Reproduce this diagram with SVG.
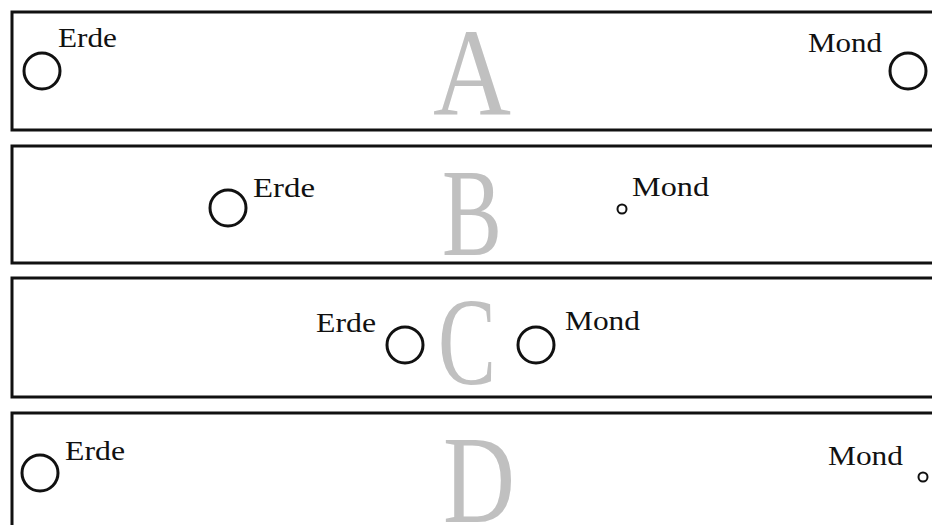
<svg xmlns="http://www.w3.org/2000/svg" width="932" height="525" viewBox="0 0 932 525">
  <style>
    .panel { fill: #ffffff; stroke: #111111; stroke-width: 3; }
    .body { fill: none; stroke: #111111; stroke-width: 3; }
    .small { fill: none; stroke: #111111; stroke-width: 2; }
    .label { font-family: "Liberation Serif", "DejaVu Serif", serif; font-size: 28px; fill: #111111; }
    .big { font-family: "Liberation Serif", "DejaVu Serif", serif; font-size: 124px; fill: #c0c0c0; text-anchor: middle; }
  </style>
  <rect width="932" height="525" fill="#ffffff"/>

  <!-- Panel A -->
  <g id="panel-a">
    <rect class="panel" x="12" y="12" width="940" height="118"/>
    <text class="big" x="472" y="115" textLength="78" lengthAdjust="spacingAndGlyphs">A</text>
    <g id="a-erde">
      <circle class="body" cx="42" cy="71" r="18"/>
      <text class="label" x="58" y="47" textLength="59" lengthAdjust="spacingAndGlyphs">Erde</text>
    </g>
    <g id="a-mond">
      <circle class="body" cx="908" cy="71" r="18"/>
      <text class="label" x="808" y="52" textLength="74" lengthAdjust="spacingAndGlyphs">Mond</text>
    </g>
  </g>

  <!-- Panel B -->
  <g id="panel-b">
    <rect class="panel" x="12" y="146" width="940" height="117"/>
    <text class="big" x="472" y="255" textLength="60" lengthAdjust="spacingAndGlyphs">B</text>
    <g id="b-erde">
      <circle class="body" cx="228" cy="208" r="18"/>
      <text class="label" x="253" y="197" textLength="62" lengthAdjust="spacingAndGlyphs">Erde</text>
    </g>
    <g id="b-mond">
      <circle class="small" cx="622" cy="209" r="4.5"/>
      <text class="label" x="632" y="196" textLength="77" lengthAdjust="spacingAndGlyphs">Mond</text>
    </g>
  </g>

  <!-- Panel C -->
  <g id="panel-c">
    <rect class="panel" x="12" y="278" width="940" height="119"/>
    <text class="big" x="467" y="384" textLength="58" lengthAdjust="spacingAndGlyphs">C</text>
    <g id="c-erde">
      <circle class="body" cx="405" cy="345" r="18"/>
      <text class="label" x="316" y="332" textLength="60" lengthAdjust="spacingAndGlyphs">Erde</text>
    </g>
    <g id="c-mond">
      <circle class="body" cx="536" cy="345" r="18"/>
      <text class="label" x="565" y="330" textLength="75" lengthAdjust="spacingAndGlyphs">Mond</text>
    </g>
  </g>

  <!-- Panel D -->
  <g id="panel-d">
    <rect class="panel" x="12" y="413" width="940" height="130"/>
    <text class="big" x="479" y="522" textLength="72" lengthAdjust="spacingAndGlyphs">D</text>
    <g id="d-erde">
      <circle class="body" cx="40" cy="473" r="18"/>
      <text class="label" x="65" y="460" textLength="60" lengthAdjust="spacingAndGlyphs">Erde</text>
    </g>
    <g id="d-mond">
      <circle class="small" cx="923" cy="477" r="4.5"/>
      <text class="label" x="828" y="465" textLength="75" lengthAdjust="spacingAndGlyphs">Mond</text>
    </g>
  </g>
</svg>
